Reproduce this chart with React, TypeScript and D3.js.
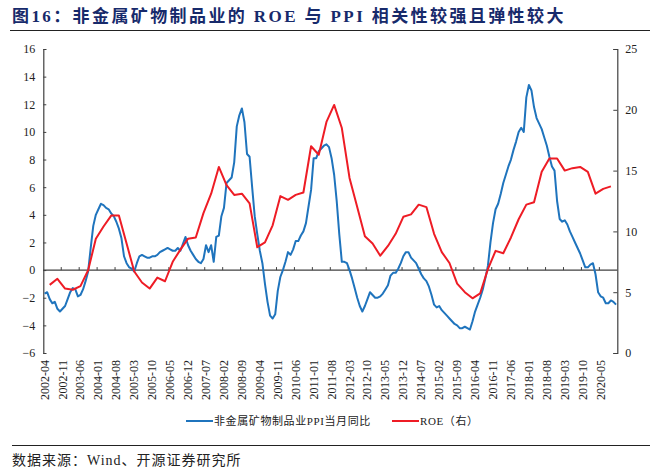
import React, { useEffect, useRef } from "react";
import * as d3 from "d3";

// 非金属矿物制品业 PPI 当月同比 (%), monthly from 2002-04
const ppi = [
  -1.7, -1.6, -2.1, -2.4, -2.3, -2.8, -3.0, -2.8, -2.6, -2.1, -1.6, -1.3,
  -1.4, -1.9, -1.8, -1.4, -0.8, -0.1, 1.6, 3.2, 4.0, 4.4, 4.8, 4.7,
  4.5, 4.4, 4.1, 3.9, 3.5, 3.0, 2.3, 1.0, 0.5, 0.2, 0.1, -0.1,
  0.5, 1.0, 1.1, 1.0, 0.9, 0.9, 1.0, 1.0, 1.1, 1.3, 1.4, 1.5,
  1.6, 1.5, 1.4, 1.4, 1.6, 1.4, 1.9, 2.4, 1.8, 1.4, 1.1, 0.8,
  0.6, 0.5, 0.8, 1.8, 1.3, 1.8, 0.6, 2.4, 2.5, 3.9, 4.5, 6.3,
  6.5, 6.7, 7.8, 10.4, 11.2, 11.7, 10.7, 8.4, 8.2, 6.0, 3.9, 2.6,
  1.4, 0.5, -1.0, -2.3, -3.3, -3.5, -3.2, -1.5, -0.5, 0.0, 0.6, 1.3,
  1.1, 1.5, 2.1, 2.1, 2.5, 2.8, 3.4, 4.6, 5.8, 8.1, 8.1, 8.6,
  8.8, 9.0, 9.1, 8.9, 8.1, 6.9, 5.0, 2.6, 0.6, 0.6, 0.5, 0.0,
  -0.6, -1.3, -2.0, -2.6, -3.0, -2.6, -2.1, -1.6, -1.8, -2.0, -2.0, -1.9,
  -1.7, -1.4, -1.1, -0.4, -0.2, -0.2, 0.1, 0.5, 1.0, 1.3, 1.3, 0.9,
  0.7, 0.5, 0.1, -0.3, -0.6, -0.8, -1.2, -1.8, -2.5, -2.7, -2.6, -2.9,
  -3.1, -3.3, -3.5, -3.7, -3.9, -4.0, -4.2, -4.2, -4.1, -4.2, -4.3, -3.7,
  -3.0, -2.5, -2.0, -1.4, -0.6, 0.3, 2.0, 3.4, 4.4, 4.8, 5.5, 6.3,
  6.9, 7.5, 8.0, 8.7, 9.3, 10.0, 10.3, 10.0, 12.5, 13.4, 13.0, 11.8,
  11.0, 10.6, 10.2, 9.6, 9.0, 8.2, 7.5, 7.2, 5.0, 3.7, 3.5, 3.6,
  3.3, 2.8, 2.4, 2.0, 1.6, 1.2, 0.7, 0.2, 0.2, 0.4, 0.5, -0.3,
  -1.6, -1.9, -2.0, -2.4, -2.4, -2.2, -2.3, -2.5,
];

// ROE (%), quarterly from 2002-06
const roe = [
  5.6, 6.1, 5.3, 5.2, 5.5, 6.8, 9.4, 10.4, 11.3, 11.3, 9.0, 6.7,
  5.8, 5.3, 6.2, 5.9, 7.5, 8.5, 9.4, 9.5, 11.5, 13.1, 15.3, 13.8,
  13.0, 13.1, 12.3, 8.7, 9.1, 10.5, 12.9, 12.6, 13.0, 13.2, 17.0, 16.3,
  19.0, 20.4, 18.5, 14.4, 12.0, 9.6, 9.0, 8.0, 8.8, 9.8, 11.2, 11.4,
  12.2, 12.0, 9.8, 8.3, 7.4, 5.7, 5.0, 4.5, 4.9, 6.9, 8.4, 8.2,
  9.5, 11.0, 12.2, 12.4, 14.9, 16.0, 16.0, 15.0, 15.2, 15.3, 14.9, 13.1,
  13.5, 13.7,
];

const leftTicks = [-6, -4, -2, 0, 2, 4, 6, 8, 10, 12, 14, 16];
const rightTicks = [0, 5, 10, 15, 20, 25];

const monthLabel = (start: [number, number], offset: number) => {
  const t = start[0] * 12 + (start[1] - 1) + offset;
  const y = Math.floor(t / 12);
  const m = (t % 12) + 1;
  return `${y}-${m < 10 ? "0" + m : m}`;
};

// category axis: every month from 2002-04
const months = ppi.map((_, i) => monthLabel([2002, 4], i));
const roeMonths = roe.map((_, i) => monthLabel([2002, 6], i * 3));

const W = 660;
const H = 473;
const serif = "'Liberation Serif', 'Times New Roman', serif";
const cjk = "'Liberation Serif', 'Noto Sans CJK SC', serif";

const App = () => {
  const ref = useRef<SVGSVGElement>(null);

  useEffect(() => {
    const svg = d3.select(ref.current);
    svg.selectAll("*").remove();

    const x = d3.scaleBand<string>().domain(months).range([43.3, 617.3]).padding(0);
    const cx = (m: string) => (x(m) as number) + x.bandwidth() / 2;
    const yL = d3.scaleLinear().domain([-6, 16]).range([353, 49]);
    const yR = d3.scaleLinear().domain([0, 25]).range([353, 49]);
    const axisColor = "#404040";

    // title
    svg
      .append("text")
      .attr("x", 12)
      .attr("y", 22)
      .attr("font-family", cjk)
      .attr("font-weight", "bold")
      .attr("font-size", 17)
      .attr("letter-spacing", 2.4)
      .attr("fill", "#172a6b")
      .text("图16：非金属矿物制品业的 ROE 与 PPI 相关性较强且弹性较大");
    svg.append("line").attr("x1", 10).attr("x2", 650).attr("y1", 30.5).attr("y2", 30.5)
      .attr("stroke", "#222").attr("stroke-width", 1.2);

    // left axis
    const gL = svg.append("g").attr("transform", "translate(43.3,0)");
    gL.call(d3.axisRight(yL).tickValues(leftTicks).tickSize(3).tickFormat(d3.format("d")));
    gL.select(".domain").attr("stroke", axisColor).attr("stroke-width", 1.2);
    gL.selectAll(".tick line").attr("stroke", axisColor);
    gL.selectAll(".tick text")
      .attr("x", -8)
      .attr("text-anchor", "end")
      .attr("font-family", serif)
      .attr("font-size", 12)
      .attr("fill", "#222");

    // right axis
    const gR = svg.append("g").attr("transform", "translate(617.3,0)");
    gR.call(d3.axisLeft(yR).tickValues(rightTicks).tickSize(4).tickFormat(d3.format("d")));
    gR.select(".domain").attr("stroke", axisColor).attr("stroke-width", 1.2);
    gR.selectAll(".tick line").attr("stroke", axisColor);
    gR.selectAll(".tick text")
      .attr("x", 8)
      .attr("text-anchor", "start")
      .attr("font-family", serif)
      .attr("font-size", 12)
      .attr("fill", "#222");

    // category axis on zero line
    const y0 = yL(0);
    svg.append("line").attr("x1", 43.3).attr("x2", 617.3).attr("y1", y0).attr("y2", y0)
      .attr("stroke", axisColor).attr("stroke-width", 1.2);
    const tickMonths = months.filter((_, i) => i % 7 === 0);
    svg
      .append("g")
      .selectAll("line")
      .data(tickMonths.slice(1))
      .join("line")
      .attr("x1", (d) => x(d) as number)
      .attr("x2", (d) => x(d) as number)
      .attr("y1", y0)
      .attr("y2", y0 - 3)
      .attr("stroke", axisColor);
    svg
      .append("g")
      .selectAll("text")
      .data(tickMonths)
      .join("text")
      .attr("transform", (d) => `translate(${cx(d) + 4},360) rotate(-90)`)
      .attr("text-anchor", "end")
      .attr("font-family", serif)
      .attr("font-size", 12)
      .attr("fill", "#222")
      .text((d) => d);

    // lines
    const ppiLine = d3
      .line<number>()
      .x((_, i) => cx(months[i]))
      .y((d) => yL(d));
    svg.append("path").datum(ppi).attr("d", ppiLine).attr("fill", "none")
      .attr("stroke", "#1f74bd").attr("stroke-width", 2).attr("stroke-linejoin", "round");

    const roeLine = d3
      .line<number>()
      .x((_, i) => cx(roeMonths[i]))
      .y((d) => yR(d));
    svg.append("path").datum(roe).attr("d", roeLine).attr("fill", "none")
      .attr("stroke", "#ee1c25").attr("stroke-width", 2).attr("stroke-linejoin", "round");

    // legend
    const legend = [
      { label: "非金属矿物制品业PPI当月同比", color: "#1f74bd", x: 186 },
      { label: "ROE（右）", color: "#ee1c25", x: 392 },
    ];
    const lg = svg.append("g");
    legend.forEach((l) => {
      lg.append("line").attr("x1", l.x).attr("x2", l.x + 27).attr("y1", 421).attr("y2", 421)
        .attr("stroke", l.color).attr("stroke-width", 2);
      lg.append("text").attr("x", l.x + 28).attr("y", 425)
        .attr("font-family", cjk).attr("font-size", 11).attr("letter-spacing", 0.6)
        .attr("fill", "#222").text(l.label);
    });

    // footer
    svg.append("line").attr("x1", 12).attr("x2", 650).attr("y1", 445.5).attr("y2", 445.5)
      .attr("stroke", "#222").attr("stroke-width", 1.2);
    svg.append("text").attr("x", 12).attr("y", 465)
      .attr("font-family", cjk).attr("font-size", 14).attr("letter-spacing", 1)
      .attr("fill", "#222")
      .text("数据来源：Wind、开源证券研究所");
  }, []);

  return (
    <svg
      ref={ref}
      width={W}
      height={H}
      style={{ position: "absolute", left: 0, top: 0, background: "#fff" }}
    />
  );
};

export default App;
